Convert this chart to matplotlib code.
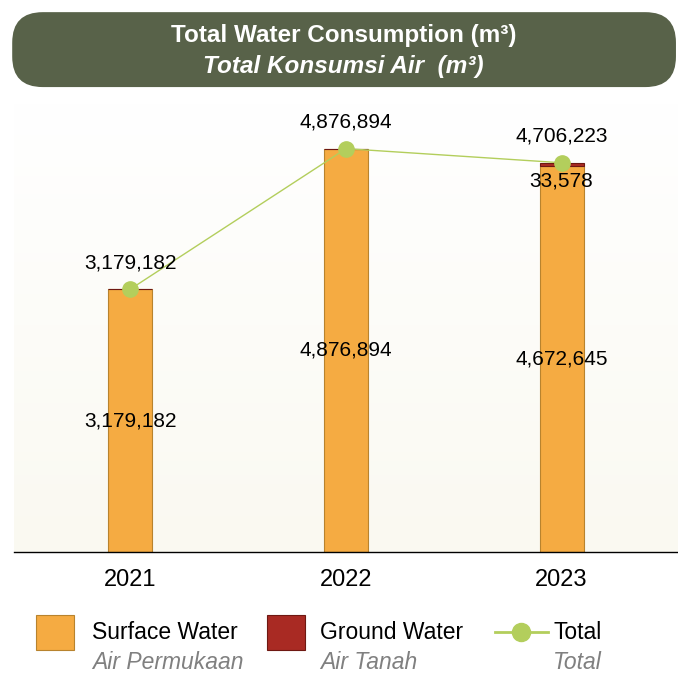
import matplotlib.pyplot as plt
import numpy as np
from matplotlib.patches import FancyBboxPatch, Rectangle
from matplotlib.lines import Line2D
from matplotlib.colors import LinearSegmentedColormap

plt.rcParams['font.family'] = ['Liberation Sans', 'DejaVu Sans']

years = ['2021', '2022', '2023']
surface = [3179182, 4876894, 4672645]
ground = [0, 0, 33578]
total = [3179182, 4876894, 4706223]

orange = '#F5AB42'
orange_edge = '#B8832E'
red = '#A92A23'
red_edge = '#6E1812'
green = '#B3CE5C'
banner = '#586249'

fig = plt.figure(figsize=(6.78, 6.75), dpi=100)

# title banner
fig.patches.append(FancyBboxPatch((0.018, 0.871), 0.979, 0.111,
                                  boxstyle='round,pad=0,rounding_size=0.045',
                                  transform=fig.transFigure, facecolor=banner,
                                  edgecolor='none'))
fig.text(0.507, 0.947, 'Total Water Consumption (m³)', color='white',
         fontsize=17.5, fontweight='bold', ha='center', va='center')
fig.text(0.507, 0.902, 'Total Konsumsi Air  (m³)', color='white',
         fontsize=17.5, fontweight='bold', style='italic', ha='center', va='center')

ax = fig.add_axes([0.0206, 0.182, 0.9794, 0.67])
ax.set_xlim(-0.54, 2.54)
ax.set_ylim(0, 5466000)

# soft background gradient, white at top
grad = np.linspace(0, 1, 100).reshape(-1, 1)
ax.imshow(grad, extent=[-0.54, 2.54, 0, 5466000], aspect='auto',
          cmap=LinearSegmentedColormap.from_list('bg', ['#FFFFFF', '#FAF9F1']),
          vmin=0, vmax=1, zorder=0)

x = np.arange(len(years))
w = 0.204
ax.bar(x, surface, width=w, color=orange, edgecolor=orange_edge, linewidth=0.8, zorder=2)
ax.bar(x, ground, bottom=surface, width=w, color=red, edgecolor=red_edge, linewidth=0.8, zorder=2)
ax.plot(x, total, color=green, linewidth=1, marker='o', markersize=11,
        markeredgecolor=green, zorder=3)

for i in range(len(years)):
    ax.annotate(f'{total[i]:,}', (x[i], total[i]), xytext=(0, 19),
                textcoords='offset points', ha='center', va='center', fontsize=15)
    ax.text(x[i], surface[i] / 2, f'{surface[i]:,}', ha='center', va='center', fontsize=15)
    if ground[i] > 0:
        ax.annotate(f'{ground[i]:,}', (x[i], total[i]), xytext=(0, -13),
                    textcoords='offset points', ha='center', va='center', fontsize=15)

ax.set_xticks(x)
ax.set_xticklabels(years, fontsize=17)
ax.tick_params(axis='x', length=0, pad=12)
ax.set_yticks([])
for s in ['top', 'right', 'left']:
    ax.spines[s].set_visible(False)
ax.spines['bottom'].set_color('black')
ax.spines['bottom'].set_linewidth(1)

# legend
fig.patches.append(Rectangle((0.053, 0.037), 0.056, 0.052, transform=fig.transFigure,
                             facecolor=orange, edgecolor=orange_edge, linewidth=0.8))
fig.patches.append(Rectangle((0.394, 0.037), 0.056, 0.052, transform=fig.transFigure,
                             facecolor=red, edgecolor=red_edge, linewidth=0.8))
fig.lines.append(Line2D([0.730, 0.808], [0.0637, 0.0637], transform=fig.transFigure,
                        color=green, linewidth=2))
fig.lines.append(Line2D([0.769], [0.0637], transform=fig.transFigure, color=green,
                        marker='o', markersize=13))

legend_items = [(0.136, 'Surface Water', 'Air Permukaan'),
                (0.472, 'Ground Water', 'Air Tanah'),
                (0.816, 'Total', 'Total')]
for lx, en, idn in legend_items:
    fig.text(lx, 0.0637, en, fontsize=16.5, ha='left', va='center')
    fig.text(lx, 0.019, idn, fontsize=16.5, ha='left', va='center', style='italic', color='#808080')

fig.savefig('out.png', dpi=100)
